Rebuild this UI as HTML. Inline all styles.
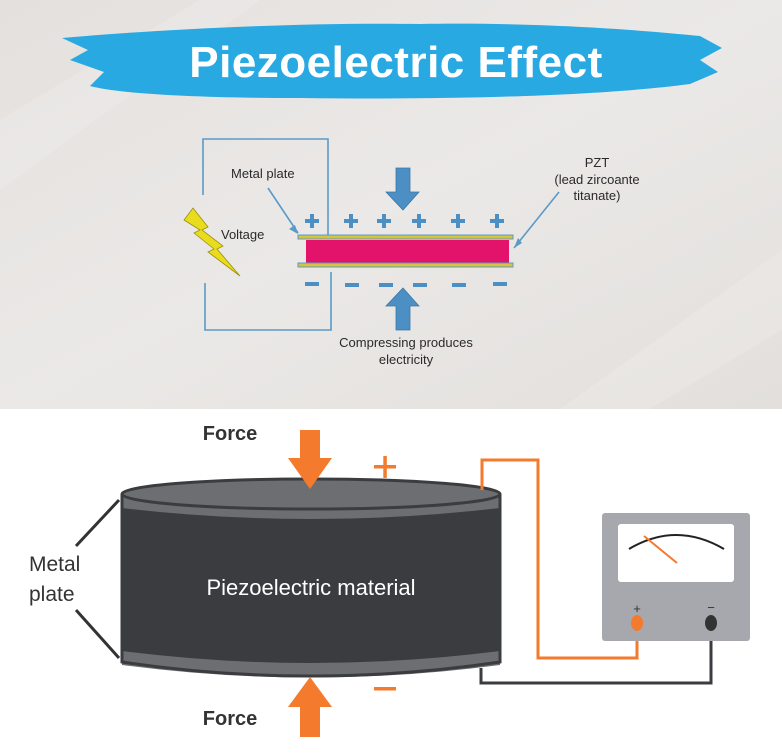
<!DOCTYPE html>
<html><head><meta charset="utf-8"><style>
html,body{margin:0;padding:0;width:782px;height:753px;overflow:hidden;background:#fff}
svg{display:block}
</style></head><body>
<svg width="782" height="753" viewBox="0 0 782 753" xmlns="http://www.w3.org/2000/svg" font-family="Liberation Sans, sans-serif">
<defs>
<linearGradient id="bg" x1="0" y1="0" x2="1" y2="1">
<stop offset="0" stop-color="#e4e0de"/><stop offset="0.5" stop-color="#ebe9e7"/><stop offset="1" stop-color="#e2dfdc"/>
</linearGradient>
<g id="p"><rect x="-7" y="-2" width="14" height="4"/><rect x="-2" y="-7" width="4" height="14"/></g>
</defs>
<rect x="0" y="0" width="782" height="409" fill="url(#bg)"/>
<polygon points="0,120 200,0 260,0 0,190" fill="#ffffff" opacity="0.15"/>
<polygon points="560,409 782,250 782,330 650,409" fill="#ffffff" opacity="0.15"/>
<!-- brush -->
<path d="M62,38 C150,30 300,22 420,24 C540,22 640,30 700,36 L722,48 L700,60 L718,72 L690,84 C600,96 450,100 300,98 C200,98 120,94 90,86 L104,72 L70,60 L88,50 Z" fill="#29a9e1"/>
<text x="396" y="77" text-anchor="middle" font-size="44" font-weight="bold" fill="#fff" letter-spacing="0.5">Piezoelectric Effect</text>
<!-- top diagram -->
<g fill="none" stroke="#5b9ac8" stroke-width="1.6">
<polyline points="203,195 203,139 328,139 328,235"/>
<polyline points="205,283 205,330 331,330 331,272"/>
<line x1="268" y1="188" x2="298" y2="233"/>
<line x1="559" y1="192" x2="514" y2="248"/>
</g>
<polygon points="298,234 289,229 295,225" fill="#5b9ac8"/>
<polygon points="514,248 518,238 522,243" fill="#5b9ac8"/>
<polygon points="184,220 193,208 208,227 202,230 223,246 217,249 240,276 208,252 214,249 194,233 200,230" fill="#e8dc1c" stroke="#9a8f10" stroke-width="0.8"/>
<rect x="298" y="235" width="215" height="4" fill="#d8c43a" stroke="#5b9ac8" stroke-width="1"/>
<rect x="306" y="240" width="203" height="26" fill="#e3126a"/>
<rect x="298" y="263" width="215" height="4" fill="#d8c43a" stroke="#5b9ac8" stroke-width="1"/>
<g fill="#4b8fc4">
<use href="#p" x="312" y="221"/><use href="#p" x="351" y="221"/><use href="#p" x="384" y="221"/><use href="#p" x="419" y="221"/><use href="#p" x="458" y="221"/><use href="#p" x="497" y="221"/>
<rect x="305" y="282" width="14" height="4"/><rect x="345" y="283" width="14" height="4"/><rect x="379" y="283" width="14" height="4"/><rect x="413" y="283" width="14" height="4"/><rect x="452" y="283" width="14" height="4"/><rect x="493" y="282" width="14" height="4"/>
<polygon points="396,168 410,168 410,192 419,192 403,210 386,192 396,192" stroke="#3a78a8" stroke-width="0.8"/>
<polygon points="403,288 419,306 410,306 410,330 396,330 396,306 386,306" stroke="#3a78a8" stroke-width="0.8"/>
</g>
<g font-size="13" fill="#2a2a2a">
<text x="231" y="178">Metal plate</text>
<text x="221" y="239">Voltage</text>
<text x="597" y="167" text-anchor="middle">PZT</text>
<text x="597" y="184" text-anchor="middle">(lead zircoante</text>
<text x="597" y="200" text-anchor="middle">titanate)</text>
<text x="406" y="347" text-anchor="middle">Compressing produces</text>
<text x="406" y="364" text-anchor="middle">electricity</text>
</g>
<!-- bottom diagram -->
<text x="230" y="440" text-anchor="middle" font-size="20" font-weight="bold" fill="#333">Force</text>
<text x="230" y="725" text-anchor="middle" font-size="20" font-weight="bold" fill="#333">Force</text>
<path d="M122,494 L122,662 Q311,690 500,662 L500,494 Z" fill="#3b3c40"/>
<path d="M122,651 Q311,675 500,651 L500,665 Q311,690 122,665 Z" fill="#6d6e72"/>
<path d="M122,494 L122,508 Q311,530 500,508 L500,494 Z" fill="#6d6e72"/>
<ellipse cx="311" cy="494" rx="189" ry="15" fill="#6d6e72" stroke="#3b3c40" stroke-width="3"/>
<path d="M122,494 L122,662 Q311,690 500,662 L500,494" fill="none" stroke="#3b3c40" stroke-width="3"/>
<text x="311" y="595" text-anchor="middle" font-size="22" fill="#fff">Piezoelectric material</text>
<g stroke="#333" stroke-width="3" fill="none">
<line x1="76" y1="546" x2="119" y2="500"/>
<line x1="76" y1="610" x2="119" y2="658"/>
</g>
<g font-size="21" fill="#333">
<text x="29" y="571">Metal</text>
<text x="29" y="601">plate</text>
</g>
<g fill="#f47a2d">
<rect x="300" y="430" width="20" height="30"/><polygon points="288,458 332,458 310,489"/>
<rect x="300" y="705" width="20" height="32"/><polygon points="288,707 332,707 310,677"/>
<rect x="374" y="465" width="22" height="3.5"/><rect x="383.3" y="456" width="3.5" height="22"/>
<rect x="374" y="687" width="22" height="3.5"/>
</g>
<polyline points="482,490 482,460 538,460 538,658 637,658 637,622" fill="none" stroke="#f47a2d" stroke-width="3"/>
<polyline points="481,668 481,683 711,683 711,622" fill="none" stroke="#3b3c40" stroke-width="3"/>
<rect x="602" y="513" width="148" height="128" rx="3" fill="#a6a8ad"/>
<rect x="618" y="524" width="116" height="58" rx="3" fill="#fff"/>
<path d="M629,549 Q676,521 724,549" fill="none" stroke="#222" stroke-width="2"/>
<line x1="644" y1="536" x2="677" y2="563" stroke="#f47a2d" stroke-width="2"/>
<text x="637" y="613" text-anchor="middle" font-size="13" fill="#333">+</text>
<text x="711" y="612" text-anchor="middle" font-size="13" fill="#333">−</text>
<ellipse cx="637" cy="623" rx="6" ry="8" fill="#f47a2d"/>
<ellipse cx="711" cy="623" rx="6" ry="8" fill="#333"/>
</svg>
</body></html>
